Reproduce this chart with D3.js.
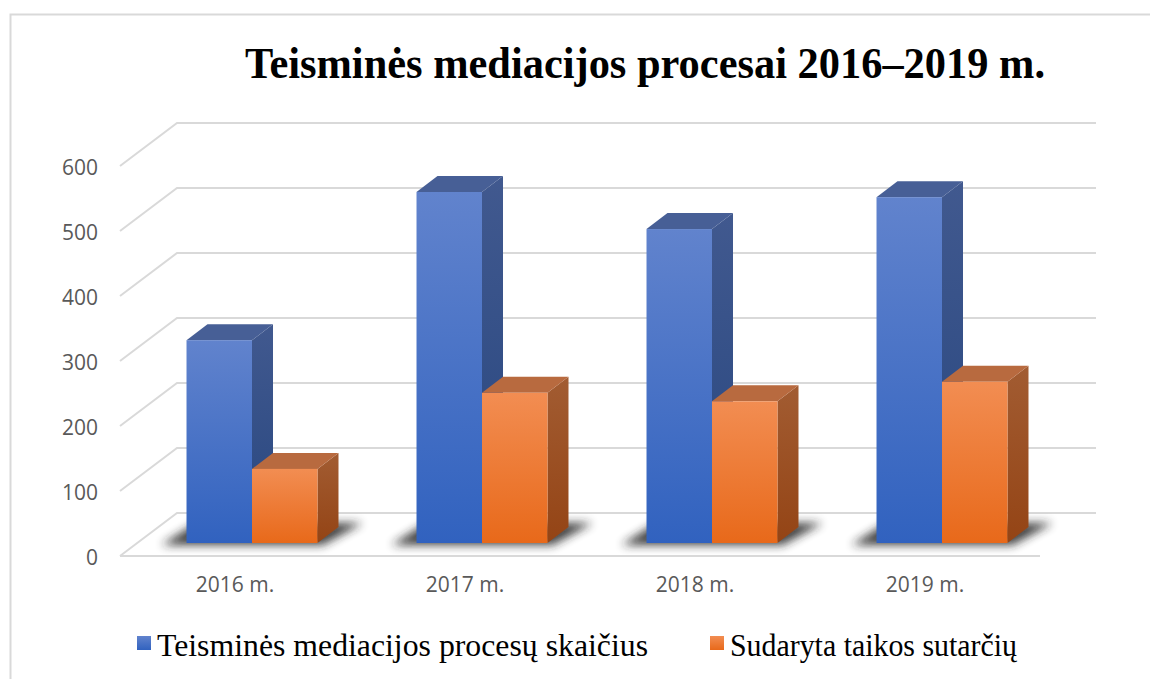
<!DOCTYPE html>
<html><head><meta charset="utf-8">
<script src="https://cdn.jsdelivr.net/npm/d3@7"></script>
<style>body{margin:0;background:#fff}svg{display:block}</style>
</head><body>
<svg id="c" width="1150" height="679"></svg>
<script>
const categories = ["2016 m.", "2017 m.", "2018 m.", "2019 m."];
const seriesNames = ["Teisminės mediacijos procesų skaičius", "Sudaryta taikos sutarčių"];
const mediationCounts = [312, 540, 483, 532];
const settlementCounts = [114, 231, 218, 248];
const yTicks = [0, 100, 200, 300, 400, 500, 600];
const title = "Teisminės mediacijos procesai 2016–2019 m.";

const serif = "'Liberation Serif', 'Times New Roman', serif";
const svg = d3.select("#c");
const defs = svg.append("defs");

// border
svg.append("path").attr("d", "M10.5,679 L10.5,14.5 L1150,14.5").attr("fill", "none").attr("stroke", "#d9d9d9").attr("stroke-width", 2);

// geometry
const floorFrontY = 556, depthX = 57, depthY = 43;
const left = 120, right = 1040;
const yFront = d3.scaleLinear().domain([0, 600]).range([floorFrontY, 166]);
const yBack = d3.scaleLinear().domain([0, 600]).range([floorFrontY - depthY, 166 - depthY]);
const x = d3.scaleBand().domain(categories).range([left, right]);
const xs = d3.scaleBand().domain([0, 1]).range([0, x.bandwidth()]).paddingOuter(0.756).paddingInner(0);

// gridlines (walls)
const grid = svg.append("g");
yTicks.forEach(t => {
  const yb = yBack(t), yf = yFront(t);
  if (t === 0) {
    grid.append("path").attr("d", `M${left},${yf} L${right},${yf}`).attr("stroke", "#d9d9d9").attr("stroke-width", 2).attr("fill", "none");
  }
  grid.append("path").attr("d", `M${left},${yf} L${left + depthX},${yb} L${right + depthX - 1},${yb}`)
    .attr("stroke", "#d9d9d9").attr("stroke-width", 2).attr("fill", "none");
});

// y axis labels
const yAxis = d3.axisLeft(yFront).tickValues(yTicks).tickSize(0).tickPadding(0);
const ya = svg.append("g").attr("transform", "translate(98,2)").call(yAxis);
ya.select(".domain").remove();
ya.selectAll("text").attr("font-family", "Open Sans").attr("font-size", 21).attr("fill", "#595959");

// x axis labels
const xAxis = d3.axisBottom(x).tickSize(0).tickPadding(0);
const xa = svg.append("g").attr("transform", "translate(0,577)").call(xAxis);
xa.select(".domain").remove();
xa.selectAll("text").attr("font-family", "Open Sans").attr("font-size", 21).attr("fill", "#595959");

// gradients
function lg(id, c1, c2) {
  const g = defs.append("linearGradient").attr("id", id).attr("x1", 0).attr("y1", 0).attr("x2", 0).attr("y2", 1);
  g.append("stop").attr("offset", 0).attr("stop-color", c1);
  g.append("stop").attr("offset", 1).attr("stop-color", c2);
}
lg("bF", "#6183cd", "#3162bf");
lg("bS", "#41598f", "#27467f");
lg("oF", "#f28d52", "#e8691a");
lg("oS", "#a25c32", "#944415");
const styles = [
  {front: "url(#bF)", side: "url(#bS)", top: "#475f96"},
  {front: "url(#oF)", side: "url(#oS)", top: "#b86a3f"}
];
defs.append("filter").attr("id", "blur").attr("x", "-50%").attr("y", "-50%").attr("width", "200%").attr("height", "200%")
  .append("feGaussianBlur").attr("stdDeviation", 5);

// bars
const barDX = 17, barDY = 13; // front face offset from floor front edge
const dX = 21, dY = 16; // bar depth
const data = categories.map((c, i) => ({cat: c, vals: [mediationCounts[i], settlementCounts[i]]}));
const baseY = floorFrontY - barDY;
const hScale = v => yFront(0) - yFront(v);

const groups = svg.append("g").selectAll("g").data(data).join("g");
// shadows
groups.append("path").attr("filter", "url(#blur)").attr("fill", "#222").attr("opacity", 0.85)
  .attr("d", d => {
    const x0 = x(d.cat) + barDX + xs(0), x1 = x(d.cat) + barDX + xs(1) + xs.bandwidth();
    return `M${x0 - 25},${baseY + 2} L${x1 + 5},${baseY + 2} L${x1 + 45},${baseY - dY - 4} L${x0 + 10},${baseY - dY - 4} Z`;
  });
groups.each(function(d) {
  const g = d3.select(this);
  d.vals.forEach((v, s) => {
    const x0 = x(d.cat) + barDX + xs(s), w = xs.bandwidth();
    const yt = baseY - hScale(v);
    const st = styles[s];
    g.append("path").attr("fill", st.side)
      .attr("d", `M${x0 + w},${baseY} L${x0 + w + dX},${baseY - dY} L${x0 + w + dX},${yt - dY} L${x0 + w},${yt} Z`);
    g.append("path").attr("fill", st.top)
      .attr("d", `M${x0},${yt} L${x0 + dX},${yt - dY} L${x0 + w + dX},${yt - dY} L${x0 + w},${yt} Z`);
    g.append("rect").attr("x", x0).attr("y", yt).attr("width", w).attr("height", baseY - yt).attr("fill", st.front);
  });
});

// title
svg.append("text").attr("x", 645).attr("y", 78).attr("text-anchor", "middle")
  .style("font-family", serif).attr("font-weight", "bold").attr("font-size", 44)
  .attr("textLength", 800).attr("lengthAdjust", "spacingAndGlyphs")
  .text(title);

// legend
const legend = [
  {name: seriesNames[0], color: "url(#bF)", x: 137, tw: 491},
  {name: seriesNames[1], color: "url(#oF)", x: 710, tw: 287}
];
const lgG = svg.append("g").selectAll("g").data(legend).join("g");
lgG.append("rect").attr("x", d => d.x).attr("y", 636).attr("width", 14).attr("height", 14).attr("fill", d => d.color);
lgG.append("text").attr("x", d => d.x + 20).attr("y", 656)
  .style("font-family", serif).attr("font-size", 31).attr("fill", "#000")
  .attr("textLength", d => d.tw).attr("lengthAdjust", "spacingAndGlyphs")
  .text(d => d.name);
</script>
</body></html>
